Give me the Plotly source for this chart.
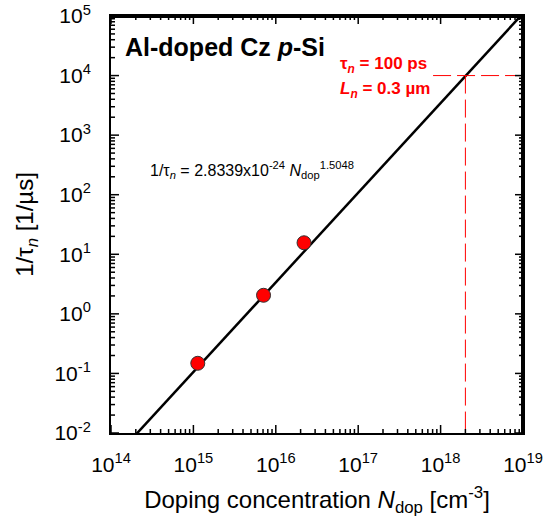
import numpy as np
import plotly.graph_objects as go

# Data
n_dop = [1.13e15, 7.1e15, 2.2e16]          # cm^-3
inv_tau = [0.148, 2.05, 15.6]               # 1/us

# Fit parameters (from the chart's equation)
fit_a = 2.8339e-24
fit_b = 1.5048
fit_x_range = [1.5e14, 1.2e19]

# Marked point
mark_x = 2e18
mark_y = 1e4
mark_h_start = 8.1e17

x_exps = [14, 15, 16, 17, 18, 19]
y_exps = [-2, -1, 0, 1, 2, 3, 4, 5]

x_tickvals = [10.0 ** e for e in x_exps]
y_tickvals = [10.0 ** e for e in y_exps]
x_ticktext = ["10<sup>%d</sup>" % e for e in x_exps]
y_ticktext = ["10<sup>%d</sup>" % e for e in y_exps]
x_minor = [m * 10.0 ** e for e in x_exps[:-1] for m in range(2, 10)]
y_minor = [m * 10.0 ** e for e in y_exps[:-1] for m in range(2, 10)]

X_RANGE = [14, 19]
Y_RANGE = [-2, 5]

# layout geometry
W, H = 553, 527
ML, MR, MT, MB = 111, 30, 16, 94
PW, PH = W - ML - MR, H - MT - MB
MAJOR_LEN, MINOR_LEN = 8, 4

fx = np.logspace(np.log10(fit_x_range[0]), np.log10(fit_x_range[1]), 200)
fy = fit_a * fx ** fit_b

FONT = "Liberation Sans, Arial, sans-serif"
RED_DASH = "18px,6px"

fig = go.Figure()
fig.add_trace(go.Scatter(x=fx, y=fy, mode="lines",
                         line=dict(color="black", width=2.5), showlegend=False, hoverinfo="skip"))
fig.add_trace(go.Scatter(x=[mark_h_start, 1e19], y=[mark_y, mark_y], mode="lines",
                         line=dict(color="red", width=1, dash=RED_DASH), showlegend=False,
                         hoverinfo="skip"))
fig.add_trace(go.Scatter(x=[mark_x, mark_x], y=[mark_y, 1e-2], mode="lines",
                         line=dict(color="red", width=1, dash=RED_DASH), showlegend=False,
                         hoverinfo="skip"))
fig.add_trace(go.Scatter(x=n_dop, y=inv_tau, mode="markers",
                         marker=dict(color="red", size=14, line=dict(color="#333333", width=1)),
                         showlegend=False))

TICK_LINE = dict(color="black", width=1.5)


def add_seg(xs, ys):
    fig.add_trace(go.Scatter(x=xs, y=ys, mode="lines", line=TICK_LINE,
                             showlegend=False, hoverinfo="skip"))


# inside tick marks on all four sides, expressed through the axes' scales
for vals, length in ((x_tickvals, MAJOR_LEN), (x_minor, MINOR_LEN)):
    dy = length * (Y_RANGE[1] - Y_RANGE[0]) / PH
    for v in vals:
        add_seg([v, v], [10 ** Y_RANGE[0], 10 ** (Y_RANGE[0] + dy)])
        add_seg([v, v], [10 ** Y_RANGE[1], 10 ** (Y_RANGE[1] - dy)])
for vals, length in ((y_tickvals, MAJOR_LEN), (y_minor, MINOR_LEN)):
    dx = length * (X_RANGE[1] - X_RANGE[0]) / PW
    for v in vals:
        add_seg([10 ** X_RANGE[0], 10 ** (X_RANGE[0] + dx)], [v, v])
        add_seg([10 ** X_RANGE[1], 10 ** (X_RANGE[1] - dx)], [v, v])

# top and right frame lines (half of the width is clipped at the plot edge)
fig.add_trace(go.Scatter(x=[10 ** X_RANGE[0], 10 ** X_RANGE[1], 10 ** X_RANGE[1]],
                         y=[10 ** Y_RANGE[1], 10 ** Y_RANGE[1], 10 ** Y_RANGE[0]],
                         mode="lines", line=dict(color="black", width=4),
                         showlegend=False, hoverinfo="skip"))

base = dict(type="log", showgrid=False, zeroline=False, automargin=False,
            showline=True, linecolor="black", linewidth=2, mirror=True, tickmode="array",
            ticks="outside", tickcolor="rgba(0,0,0,0)", ticklabeloverflow="allow")

fig.update_layout(
    xaxis=dict(range=X_RANGE, tickvals=x_tickvals, ticktext=x_ticktext, ticklen=12,
               tickfont=dict(family=FONT, size=21, color="black"),
               title=dict(text="Doping concentration <i>N</i><sub>dop</sub> [cm<sup>-3</sup>]",
                          font=dict(family=FONT, size=24, color="black"), standoff=16),
               **base),
    yaxis=dict(range=Y_RANGE, tickvals=y_tickvals, ticktext=y_ticktext, ticklen=14,
               tickfont=dict(family=FONT, size=21, color="black"),
               title=dict(text="1/τ<sub><i>n</i></sub> [1/µs]",
                          font=dict(family=FONT, size=24, color="black"), standoff=14),
               **base),
)

fig.add_annotation(xref="paper", yref="paper", x=0.029, y=0.926, xanchor="left", yanchor="middle",
                   text="<b>Al-doped Cz <i>p</i>-Si</b>", showarrow=False,
                   font=dict(family=FONT, size=25, color="black"))
fig.add_annotation(xref="paper", yref="paper", x=0.551, y=0.882, xanchor="left", yanchor="middle",
                   text="<b>τ<sub><i>n</i></sub> = 100 ps</b>", showarrow=False,
                   font=dict(family=FONT, size=17, color="red"))
fig.add_annotation(xref="paper", yref="paper", x=0.551, y=0.823, xanchor="left", yanchor="middle",
                   text="<b><i>L</i><sub><i>n</i></sub> = 0.3 µm</b>", showarrow=False,
                   font=dict(family=FONT, size=17, color="red"))
fig.add_annotation(xref="paper", yref="paper", x=0.09, y=0.63, xanchor="left", yanchor="middle",
                   text="1/τ<sub><i>n</i></sub> = 2.8339x10<sup>-24</sup> <i>N</i><sub>dop</sub><sup>1.5048</sup>",
                   showarrow=False, font=dict(family=FONT, size=16, color="black"))

fig.update_layout(width=W, height=H, margin=dict(l=ML, r=MR, t=MT, b=MB),
                  plot_bgcolor="white", paper_bgcolor="white", font=dict(family=FONT))

# remove the page's default 8px body margin so the figure sits at the window's corner
fig.write_html("out.html", config={"displayModeBar": False},
               post_script="document.body.style.margin='0';")
